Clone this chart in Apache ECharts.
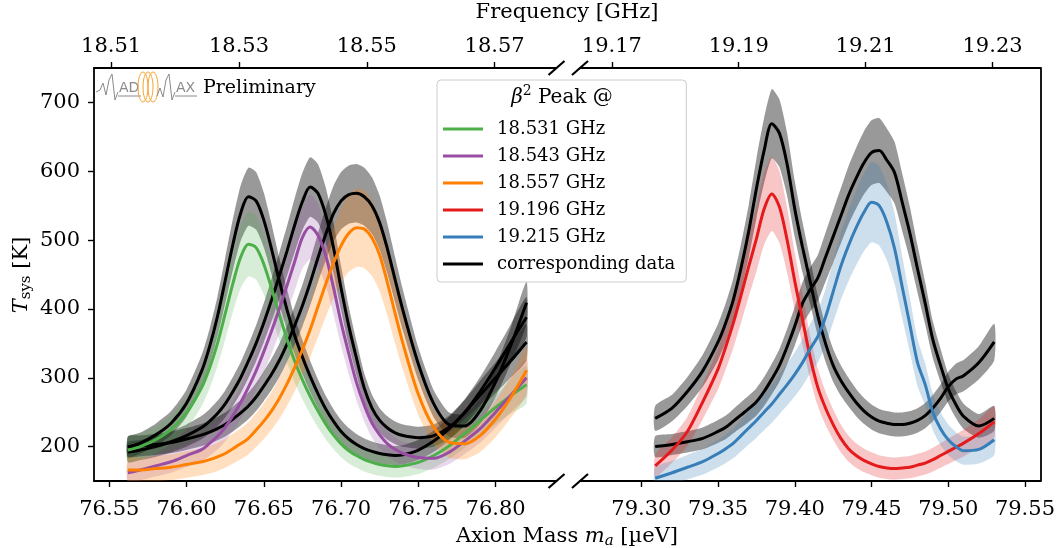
<!DOCTYPE html>
<html><head><meta charset="utf-8">
<script src="https://cdn.jsdelivr.net/npm/echarts@6/dist/echarts.min.js"></script>
<style>html,body{margin:0;padding:0;background:#fff}#c{width:1058px;height:548px}</style>
</head><body><div id="c"></div><script>
// ---------- data ----------
const massLeft = [76.562, 76.57, 76.58, 76.59, 76.60, 76.61, 76.615, 76.62, 76.625, 76.63, 76.635, 76.64, 76.645, 76.65, 76.655, 76.66, 76.665, 76.67, 76.675, 76.68, 76.685, 76.69, 76.695, 76.70, 76.705, 76.71, 76.715, 76.72, 76.725, 76.73, 76.735, 76.74, 76.75, 76.76, 76.77, 76.78, 76.79, 76.80, 76.81, 76.82];
const green  = [195, 200, 210, 225, 249, 287, 315, 350, 393, 437, 475, 494, 489, 465, 430, 392, 356, 324, 297, 273, 252, 233, 217, 204, 194, 187, 181, 177, 174, 172, 171, 172, 177, 187, 201, 219, 238, 257, 274, 290];
const data1  = [199, 205, 217, 234, 263, 311, 346, 389, 441, 494, 539, 563, 557, 529, 487, 441, 399, 361, 330, 302, 277, 255, 237, 222, 211, 203, 197, 193, 190, 188, 187, 188, 195, 208, 226, 249, 275, 300, 325, 352];
const purple = [162, 166, 172, 178, 187, 196, 205, 215, 228, 245, 264, 286, 310, 338, 368, 400, 434, 469, 504, 519, 507, 478, 432, 380, 335, 293, 260, 234, 217, 204, 196, 190, 184, 183, 192, 208, 226, 250, 275, 300];
const data2  = [192, 195, 200, 207, 216, 228, 237, 248, 262, 280, 300, 324, 350, 380, 413, 448, 484, 522, 556, 577, 568, 537, 490, 430, 375, 328, 285, 256, 238, 227, 220, 216, 213, 216, 228, 250, 280, 315, 352, 388];
const orange = [166, 166, 168, 170, 174, 178, 181, 185, 190, 197, 204, 212, 224, 237, 252, 270, 291, 315, 341, 370, 403, 436, 466, 492, 510, 518, 516, 503, 478, 438, 393, 350, 276, 228, 206, 204, 216, 240, 272, 311];
const data3  = [200, 201, 203, 206, 211, 217, 221, 226, 232, 240, 249, 259, 272, 288, 305, 325, 349, 376, 405, 438, 474, 508, 538, 557, 566, 568, 563, 550, 525, 487, 442, 398, 320, 262, 232, 230, 252, 294, 348, 409];

const massRight = [79.309, 79.32, 79.33, 79.34, 79.35, 79.355, 79.36, 79.365, 79.37, 79.375, 79.38, 79.385, 79.39, 79.395, 79.40, 79.405, 79.41, 79.415, 79.42, 79.425, 79.43, 79.435, 79.44, 79.445, 79.45, 79.455, 79.46, 79.465, 79.47, 79.475, 79.48, 79.485, 79.49, 79.495, 79.50, 79.505, 79.51, 79.52, 79.53];
const red    = [172, 195, 222, 265, 313, 345, 380, 420, 462, 502, 545, 567, 548, 500, 440, 385, 330, 286, 256, 232, 212, 197, 187, 180, 175, 171, 169, 168, 169, 170, 173, 176, 181, 187, 193, 199, 205, 219, 236];
const data4  = [241, 256, 280, 310, 352, 380, 414, 460, 513, 575, 630, 669, 655, 610, 545, 490, 440, 390, 350, 318, 296, 279, 264, 252, 243, 237, 234, 232, 232, 234, 238, 245, 256, 270, 287, 298, 303, 322, 352];
const blue   = [154, 162, 170, 178, 190, 197, 205, 216, 227, 238, 250, 262, 276, 290, 305, 322, 342, 360, 388, 425, 462, 492, 518, 540, 555, 550, 526, 488, 432, 377, 322, 290, 250, 226, 210, 200, 194, 196, 210];
const data5  = [200, 203, 207, 212, 222, 228, 237, 246, 255, 265, 280, 298, 318, 345, 375, 408, 428, 445, 475, 505, 535, 565, 590, 612, 627, 630, 616, 598, 555, 510, 458, 408, 355, 318, 284, 261, 244, 230, 241];

// relative half-width of the shaded uncertainty bands
const bandModel = {green: 0.095, purple: 0.09, orange: 0.11, red: 0.095, blue: 0.105};
const bandData = 0.075;

const legendNames = ['18.531 GHz', '18.543 GHz', '18.557 GHz', '19.196 GHz', '19.215 GHz', 'corresponding data'];
const tickMassLeft  = [76.55, 76.60, 76.65, 76.70, 76.75, 76.80];
const tickMassRight = [79.30, 79.35, 79.40, 79.45, 79.50, 79.55];
const tickFreqLeft  = [18.51, 18.53, 18.55, 18.57];
const tickFreqRight = [19.17, 19.19, 19.21, 19.23];
const tickTsys = [200, 300, 400, 500, 600, 700];
const rangeLeft = [76.5401, 76.8394];
const rangeRight = [79.2600, 79.5600];
const rangeT = [150, 750];
const ueV_to_GHz = 0.24179893;

// ---------- chart ----------
const FONT = 'DejaVu Serif';
const colors = {green:'#4daf4a', purple:'#984ea3', orange:'#ff7f00', red:'#e41a1c', blue:'#377eb8'};

function xAxisDef(grid, pos, range, ticks, digits) {
  return {
    gridIndex: grid, type: 'value', position: pos, min: range[0], max: range[1],
    axisLine: {show: true, onZero: false, lineStyle: {color: '#000', width: 1.8}},
    axisTick: {show: true, inside: false, length: 6, customValues: ticks, lineStyle: {color: '#000', width: 1.4}},
    axisLabel: {customValues: ticks, formatter: v => v.toFixed(digits), fontFamily: FONT, fontSize: 21, color: '#000', margin: pos === 'bottom' ? 18 : 11},
    splitLine: {show: false}
  };
}

function band(xs, ys, frac, color, alpha, xi, yi, z) {
  return {
    type: 'custom', xAxisIndex: xi, yAxisIndex: yi, z: z, silent: true, clip: true,
    data: [[xs[0], ys[0]]], encode: {x: 0, y: 1},
    renderItem: (params, api) => {
      const pts = [];
      for (let i = 0; i < xs.length; i++) pts.push(api.coord([xs[i], ys[i] * (1 + frac)]));
      for (let i = xs.length - 1; i >= 0; i--) pts.push(api.coord([xs[i], ys[i] * (1 - frac)]));
      return {type: 'polygon', shape: {points: pts, smooth: 0.2}, style: {fill: color, opacity: alpha}};
    }
  };
}
function line(name, xs, ys, color, xi, yi, z) {
  return {
    type: 'line', name: name, xAxisIndex: xi, yAxisIndex: yi, z: z,
    data: xs.map((m, i) => [m, ys[i]]), showSymbol: false, symbol: 'none', smooth: 0.3,
    color: color, lineStyle: {color: color, width: 3}, clip: true, silent: true
  };
}

const series = [
  band(massLeft, data1, bandData, '#000', 0.4, 0, 0, 1),
  band(massLeft, data2, bandData, '#000', 0.4, 0, 0, 1),
  band(massLeft, data3, bandData, '#000', 0.4, 0, 0, 1),
  band(massRight, data4, bandData, '#000', 0.4, 2, 1, 1),
  band(massRight, data5, bandData, '#000', 0.4, 2, 1, 1),
  band(massLeft, green, bandModel.green, colors.green, 0.22, 0, 0, 2),
  band(massLeft, purple, bandModel.purple, colors.purple, 0.22, 0, 0, 2),
  band(massLeft, orange, bandModel.orange, colors.orange, 0.25, 0, 0, 2),
  band(massRight, red, bandModel.red, colors.red, 0.25, 2, 1, 2),
  band(massRight, blue, bandModel.blue, colors.blue, 0.25, 2, 1, 2),
  line(legendNames[5], massLeft, data1, '#000', 0, 0, 3),
  line(legendNames[5], massLeft, data2, '#000', 0, 0, 3),
  line(legendNames[5], massLeft, data3, '#000', 0, 0, 3),
  line(legendNames[5], massRight, data4, '#000', 2, 1, 3),
  line(legendNames[5], massRight, data5, '#000', 2, 1, 3),
  line(legendNames[0], massLeft, green, colors.green, 0, 0, 4),
  line(legendNames[1], massLeft, purple, colors.purple, 0, 0, 4),
  line(legendNames[2], massLeft, orange, colors.orange, 0, 0, 4),
  line(legendNames[3], massRight, red, colors.red, 2, 1, 4),
  line(legendNames[4], massRight, blue, colors.blue, 2, 1, 4)
];

// break marks and logo
const graphics = [];
[[556.5, 68], [580, 68], [556.5, 481], [580, 481]].forEach(p => {
  graphics.push({type: 'line', z: 50, shape: {x1: p[0] - 8, y1: p[1] + 7, x2: p[0] + 8, y2: p[1] - 7}, style: {stroke: '#000', lineWidth: 2.2}});
});
const grey = '#8a8a8a';
graphics.push({type: 'polyline', z: 50, shape: {points: [[96,92],[100,90],[103,83],[106,95],[109,80],[112,74],[115,100],[118,92]]}, style: {stroke: grey, lineWidth: 1, fill: null}});
graphics.push({type: 'line', z: 50, shape: {x1: 118, y1: 96, x2: 141, y2: 96}, style: {stroke: grey, lineWidth: 1}});
graphics.push({type: 'text', z: 50, x: 119, y: 88, style: {text: 'AD', font: '14px "DejaVu Sans"', fill: grey, verticalAlign: 'middle'}});
[143, 148, 153].forEach(cx => graphics.push({type: 'ellipse', z: 50, shape: {cx: cx, cy: 87, rx: 5, ry: 15}, style: {stroke: '#f7a530', lineWidth: 1, fill: null}}));
graphics.push({type: 'polyline', z: 50, shape: {points: [[157,96],[160,88],[163,97],[166,80],[169,74],[172,100],[175,92]]}, style: {stroke: grey, lineWidth: 1, fill: null}});
graphics.push({type: 'line', z: 50, shape: {x1: 175, y1: 96, x2: 197, y2: 96}, style: {stroke: grey, lineWidth: 1}});
graphics.push({type: 'text', z: 50, x: 176, y: 88, style: {text: 'AX', font: '14px "DejaVu Sans"', fill: grey, verticalAlign: 'middle'}});
graphics.push({type: 'text', z: 50, x: 203, y: 88, style: {text: 'Preliminary', font: '19px "DejaVu Serif"', fill: '#000', verticalAlign: 'middle'}});
// axis titles
graphics.push({type: 'text', z: 50, x: 567, y: 13, style: {text: 'Frequency [GHz]', font: '21px "DejaVu Serif"', fill: '#000', align: 'center', verticalAlign: 'middle'}});
graphics.push({type: 'text', z: 50, x: 567, y: 537, style: {
  text: '{t|Axion Mass }{m|m}{s|a}{t| [µeV]}', align: 'center', verticalAlign: 'middle',
  rich: {t: {fontFamily: FONT, fontSize: 21, fill: '#000'}, m: {fontFamily: FONT, fontSize: 21, fontStyle: 'italic', fill: '#000'},
         s: {fontFamily: FONT, fontSize: 15, fontStyle: 'italic', fill: '#000', padding: [9, 0, 0, 0]}}}});
graphics.push({type: 'text', z: 50, x: 22, y: 275, rotation: Math.PI / 2, style: {
  text: '{m|T}{s|sys}{t| [K]}', align: 'center', verticalAlign: 'middle',
  rich: {t: {fontFamily: FONT, fontSize: 21, fill: '#000'}, m: {fontFamily: FONT, fontSize: 21, fontStyle: 'italic', fill: '#000'},
         s: {fontFamily: FONT, fontSize: 15, fill: '#000', padding: [9, 0, 0, 0]}}}});
// legend title
graphics.push({type: 'text', z: 200, x: 562, y: 98, style: {
  text: '{b|β}{p|2}{t| Peak @}', align: 'center', verticalAlign: 'middle',
  rich: {t: {fontFamily: FONT, fontSize: 20, fill: '#000'}, b: {fontFamily: FONT, fontSize: 20, fontStyle: 'italic', fill: '#000'},
         p: {fontFamily: FONT, fontSize: 14, fill: '#000', padding: [0, 0, 13, 0]}}}});

const option = {
  animation: false,
  backgroundColor: '#fff',
  grid: [
    {left: 94, top: 68, width: 462.5, height: 413},
    {left: 580, top: 68, width: 463, height: 413}
  ],
  xAxis: [
    xAxisDef(0, 'bottom', rangeLeft, tickMassLeft, 2),
    xAxisDef(0, 'top', [rangeLeft[0] * ueV_to_GHz, rangeLeft[1] * ueV_to_GHz], tickFreqLeft, 2),
    xAxisDef(1, 'bottom', rangeRight, tickMassRight, 2),
    xAxisDef(1, 'top', [rangeRight[0] * ueV_to_GHz, rangeRight[1] * ueV_to_GHz], tickFreqRight, 2)
  ],
  yAxis: [
    {gridIndex: 0, type: 'value', position: 'left', min: rangeT[0], max: rangeT[1],
     axisLine: {show: true, onZero: false, lineStyle: {color: '#000', width: 1.8}},
     axisTick: {show: true, length: 6, customValues: tickTsys, lineStyle: {color: '#000', width: 1.4}},
     axisLabel: {customValues: tickTsys, fontFamily: FONT, fontSize: 21, color: '#000', margin: 14},
     splitLine: {show: false}},
    {gridIndex: 1, type: 'value', position: 'right', min: rangeT[0], max: rangeT[1],
     axisLine: {show: true, onZero: false, lineStyle: {color: '#000', width: 1.8}},
     axisTick: {show: false}, axisLabel: {show: false}, splitLine: {show: false}}
  ],
  legend: {
    left: 437, top: 80, orient: 'vertical', data: legendNames, icon: 'rect',
    itemWidth: 40, itemHeight: 3, itemGap: 7, padding: [39, 11, 8, 6],
    backgroundColor: 'rgba(255,255,255,0.85)', borderColor: '#cccccc', borderWidth: 1, borderRadius: 4,
    textStyle: {fontFamily: FONT, fontSize: 18, color: '#000', lineHeight: 20, padding: [0, 0, 0, 9]},
    selectedMode: false, z: 100
  },
  graphic: graphics,
  series: series
};
const chart = echarts.init(document.getElementById('c'), null, {renderer: 'canvas'});
chart.setOption(option);
</script></body></html>
